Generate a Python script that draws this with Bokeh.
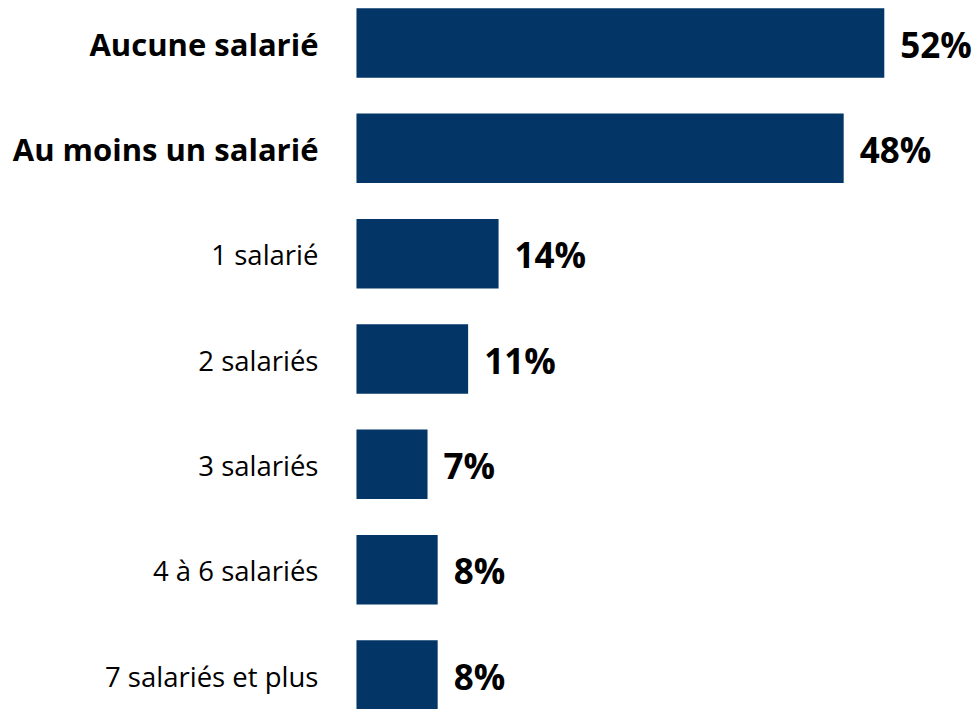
from bokeh.plotting import figure
from bokeh.models import Range1d, ColumnDataSource
from bokeh.core.properties import value
from bokeh.embed import file_html
from bokeh.resources import INLINE

categories = ["Aucune salarié", "Au moins un salarié", "1 salarié", "2 salariés",
              "3 salariés", "4 à 6 salariés", "7 salariés et plus"]
values = [52, 48, 14, 11, 7, 8, 8]
value_labels = ["52%", "48%", "14%", "11%", "7%", "8%", "8%"]
bold_flags = [True, True, False, False, False, False, False]

ypos = list(range(len(categories)))

p = figure(width=979, height=709, output_backend="svg", toolbar_location=None,
           x_range=Range1d(-35.07, 61.38), y_range=Range1d(6.3275, -0.4035),
           min_border=0, outline_line_color=None)
p.axis.visible = False
p.grid.visible = False
p.background_fill_color = "white"
p.border_fill_color = "white"

src = ColumnDataSource(dict(y=ypos, v=values, lab=value_labels))
p.hbar(y="y", left=0, right="v", height=0.66, source=src,
       fill_color="#033567", line_color=None)

FONT = "Open Sans"
p.text(x="v", y="y", text="lab", source=src, x_offset=16, y_offset=1,
       text_align="left", text_baseline="middle",
       text_font=value(FONT), text_font_style="bold",
       text_font_size="35px", text_color="black")

bold_src = ColumnDataSource(dict(
    y=[y for y, b in zip(ypos, bold_flags) if b],
    t=[c for c, b in zip(categories, bold_flags) if b]))
reg_src = ColumnDataSource(dict(
    y=[y for y, b in zip(ypos, bold_flags) if not b],
    t=[c for c, b in zip(categories, bold_flags) if not b]))

p.text(x=0, y="y", text="t", source=bold_src, x_offset=-38, y_offset=1,
       text_align="right", text_baseline="middle",
       text_font=value(FONT), text_font_style="bold",
       text_font_size="31px", text_color="black")
p.text(x=0, y="y", text="t", source=reg_src, x_offset=-38, y_offset=1,
       text_align="right", text_baseline="middle",
       text_font=value(FONT), text_font_style="normal",
       text_font_size="27.5px", text_color="black")

open("out.html", "w").write(file_html(p, INLINE))
